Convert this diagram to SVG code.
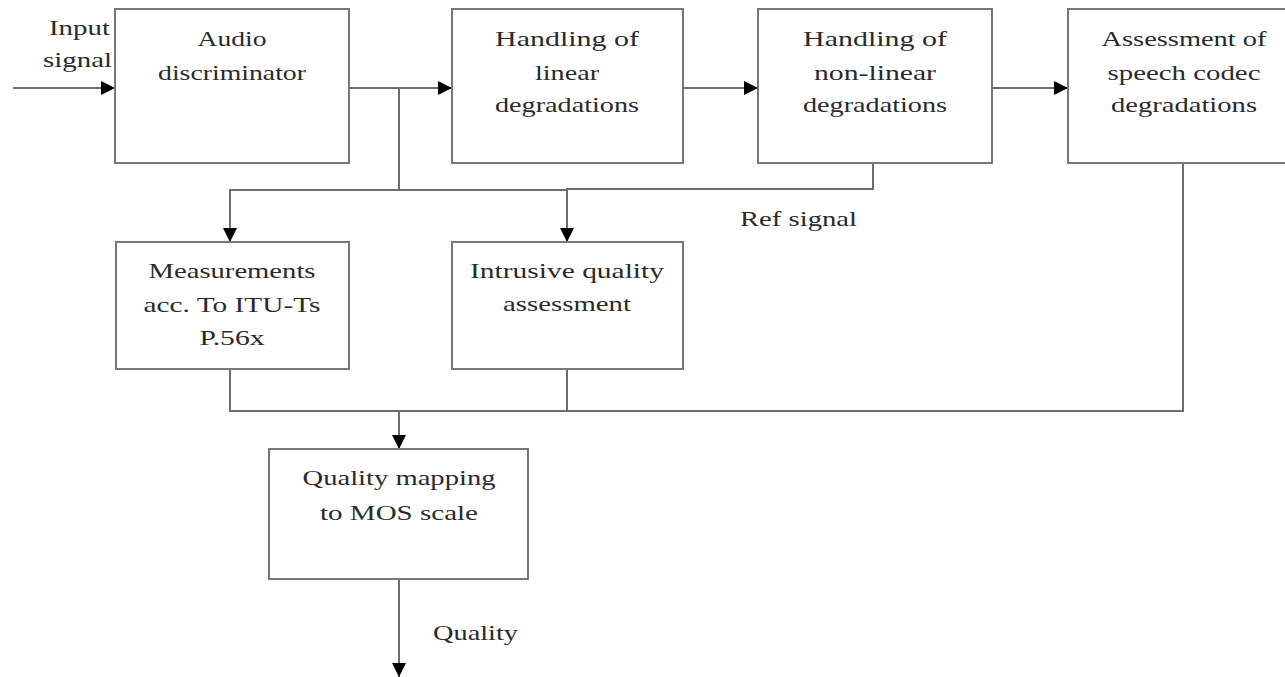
<svg xmlns="http://www.w3.org/2000/svg" width="1285" height="677" viewBox="0 0 1285 677">
  <style>
    .box { fill: #ffffff; stroke: #777777; stroke-width: 2; }
    .wire { fill: none; stroke: #6e6e6e; stroke-width: 2; }
    .lbl { font-family: "Liberation Serif", "Times New Roman", serif; font-size: 21px; fill: #2a2a2a; text-anchor: middle; }
    .lbl-end { font-family: "Liberation Serif", "Times New Roman", serif; font-size: 21px; fill: #2a2a2a; text-anchor: end; }
    .lbl-start { font-family: "Liberation Serif", "Times New Roman", serif; font-size: 21px; fill: #2a2a2a; text-anchor: start; }
  </style>
  <defs>
    <marker id="arrow" markerUnits="userSpaceOnUse" markerWidth="16" markerHeight="16" refX="14" refY="7" orient="auto">
      <path d="M0,0 L14,7 L0,14 z" fill="#000000"/>
    </marker>
  </defs>

  <rect width="1285" height="677" fill="#ffffff"/>

  <!-- connectors -->
  <g id="connectors">
    <path class="wire" d="M13,88 H115" marker-end="url(#arrow)"/>
    <path class="wire" d="M349,88 H452" marker-end="url(#arrow)"/>
    <path class="wire" d="M683,88 H758" marker-end="url(#arrow)"/>
    <path class="wire" d="M992,88 H1068" marker-end="url(#arrow)"/>
    <path class="wire" d="M399,88 V190"/>
    <path class="wire" d="M567,190 H230 V242" marker-end="url(#arrow)"/>
    <path class="wire" d="M873,163 V189 H567 V242" marker-end="url(#arrow)"/>
    <path class="wire" d="M230,369 V411 H1183 V163"/>
    <path class="wire" d="M567,370 V411"/>
    <path class="wire" d="M399,411 V449" marker-end="url(#arrow)"/>
    <path class="wire" d="M399,579 V677" marker-end="url(#arrow)"/>
  </g>

  <!-- signal labels -->
  <g id="input-label">
    <text class="lbl-end" x="110" y="35" textLength="61" lengthAdjust="spacingAndGlyphs">Input</text>
    <text class="lbl-end" x="112" y="67" textLength="69" lengthAdjust="spacingAndGlyphs">signal</text>
  </g>
  <text id="ref-label" class="lbl-start" x="740" y="226" textLength="117" lengthAdjust="spacingAndGlyphs">Ref signal</text>
  <text id="quality-label" class="lbl-start" x="433" y="640" textLength="85" lengthAdjust="spacingAndGlyphs">Quality</text>

  <!-- processing blocks -->
  <g id="audio-discriminator">
    <rect class="box" x="115" y="9" width="234" height="154"/>
    <text class="lbl" x="232" y="46" textLength="69" lengthAdjust="spacingAndGlyphs">Audio</text>
    <text class="lbl" x="232" y="80" textLength="148" lengthAdjust="spacingAndGlyphs">discriminator</text>
  </g>

  <g id="linear-degradations">
    <rect class="box" x="452" y="9" width="231" height="154"/>
    <text class="lbl" x="567" y="46" textLength="144" lengthAdjust="spacingAndGlyphs">Handling of</text>
    <text class="lbl" x="567" y="80" textLength="64" lengthAdjust="spacingAndGlyphs">linear</text>
    <text class="lbl" x="567" y="112" textLength="144" lengthAdjust="spacingAndGlyphs">degradations</text>
  </g>

  <g id="nonlinear-degradations">
    <rect class="box" x="758" y="9" width="234" height="154"/>
    <text class="lbl" x="875" y="46" textLength="144" lengthAdjust="spacingAndGlyphs">Handling of</text>
    <text class="lbl" x="875" y="80" textLength="122" lengthAdjust="spacingAndGlyphs">non-linear</text>
    <text class="lbl" x="875" y="112" textLength="144" lengthAdjust="spacingAndGlyphs">degradations</text>
  </g>

  <g id="codec-assessment">
    <rect class="box" x="1068" y="9" width="232" height="154"/>
    <text class="lbl" x="1184" y="46" textLength="165" lengthAdjust="spacingAndGlyphs">Assessment of</text>
    <text class="lbl" x="1184" y="80" textLength="153" lengthAdjust="spacingAndGlyphs">speech codec</text>
    <text class="lbl" x="1184" y="112" textLength="146" lengthAdjust="spacingAndGlyphs">degradations</text>
  </g>

  <g id="p56-measurements">
    <rect class="box" x="116" y="242" width="233" height="127"/>
    <text class="lbl" x="232" y="278" textLength="167" lengthAdjust="spacingAndGlyphs">Measurements</text>
    <text class="lbl" x="232" y="312" textLength="177" lengthAdjust="spacingAndGlyphs">acc. To ITU-Ts</text>
    <text class="lbl" x="232" y="345" textLength="65" lengthAdjust="spacingAndGlyphs">P.56x</text>
  </g>

  <g id="intrusive-assessment">
    <rect class="box" x="452" y="242" width="231" height="127"/>
    <text class="lbl" x="567" y="278" textLength="194" lengthAdjust="spacingAndGlyphs">Intrusive quality</text>
    <text class="lbl" x="567" y="311" textLength="128" lengthAdjust="spacingAndGlyphs">assessment</text>
  </g>

  <g id="mos-mapping">
    <rect class="box" x="269" y="449" width="259" height="130"/>
    <text class="lbl" x="399" y="485" textLength="193" lengthAdjust="spacingAndGlyphs">Quality mapping</text>
    <text class="lbl" x="399" y="520" textLength="158" lengthAdjust="spacingAndGlyphs">to MOS scale</text>
  </g>
</svg>
